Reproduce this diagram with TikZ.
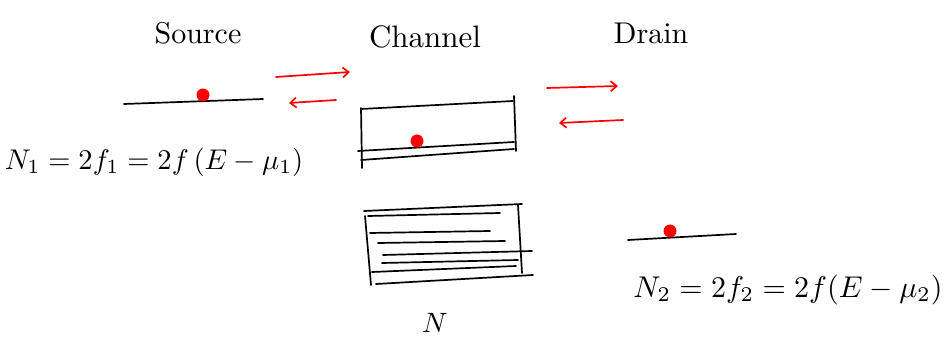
\documentclass[tikz,border=0pt]{standalone}
\usepackage{amsmath}
\usepackage{graphicx}
\usetikzlibrary{arrows.meta}
\begin{document}
\begin{tikzpicture}[x=1pt,y=-1pt,
  ink/.style={line width=1.7pt,line cap=round,black},
  redink/.style={line width=1.7pt,line cap=round,red,-{Straight Barb[length=6pt,width=10pt]}},
  dot/.style={circle,fill=red,inner sep=0pt,minimum size=13pt},
  lbl/.style={inner sep=0pt},
  eq/.style={inner sep=0pt}]
\useasboundingbox (0,0) rectangle (949,344);
% titles
\node[lbl] (src) at (198,33) {\scalebox{3.0}{Source}};
\node[lbl] (chn) at (425,37) {\scalebox{3.1}{Channel}};
\node[lbl] (drn) at (651,33) {\scalebox{3.0}{Drain}};
% source level
\coordinate (s1) at (124,104);
\coordinate (s2) at (263,99);
\draw[ink] (s1) -- (s2);
\node[dot] (sdot) at (203,95) {};
\node[eq] (eq1) at (154,162) {\scalebox{2.85}{$N_1 = 2f_1 = 2f\,(E-\mu_1)$}};
% arrows source/channel
\coordinate (a1) at (276,77); \coordinate (a2) at (350,72);
\coordinate (a3) at (336,100); \coordinate (a4) at (289,103);
\draw[redink] (a1) -- (a2);
\draw[redink] (a3) -- (a4);
% channel box
\coordinate (c1) at (361,109); \coordinate (c2) at (513,101);
\coordinate (c3) at (361,108); \coordinate (c4) at (362,168);
\coordinate (c5) at (514,96);  \coordinate (c6) at (516,151);
\coordinate (c7) at (358,151); \coordinate (c8) at (514,142);
\coordinate (c9) at (361,160); \coordinate (c10) at (514,149);
\draw[ink] (c1) -- (c2);
\draw[ink] (c3) -- (c4);
\draw[ink] (c5) -- (c6);
\draw[ink] (c7) -- (c8);
\draw[ink] (c9) -- (c10);
\node[dot] (cdot) at (417,141) {};
% arrows channel/drain
\coordinate (b1) at (547,88); \coordinate (b2) at (618,86);
\coordinate (b3) at (623,120); \coordinate (b4) at (559,123);
\draw[redink] (b1) -- (b2);
\draw[redink] (b3) -- (b4);
% drain level
\coordinate (d1) at (628,240); \coordinate (d2) at (736,234);
\draw[ink] (d1) -- (d2);
\node[dot] (ddot) at (670,231) {};
\node[eq] (eq2) at (788,290) {\scalebox{3.0}{$N_2 = 2f_2 = 2f(E-\mu_2)$}};
% filled channel box
\coordinate (f1) at (364,211); \coordinate (f2) at (522,204);
\coordinate (f3) at (368,216); \coordinate (f4) at (500,213);
\coordinate (f5) at (365,216); \coordinate (f6) at (371,285);
\coordinate (f7) at (518,205); \coordinate (f8) at (522,273);
\draw[ink] (f1) -- (f2);
\draw[ink] (f3) -- (f4);
\draw[ink] (f5) -- (f6);
\draw[ink] (f7) -- (f8);
\coordinate (g1) at (370,233); \coordinate (g2) at (490,231);
\coordinate (g3) at (378,243); \coordinate (g4) at (505,241);
\coordinate (g5) at (383,255); \coordinate (g6) at (532,251);
\coordinate (g7) at (382,263); \coordinate (g8) at (518,260);
\coordinate (g9) at (372,272); \coordinate (g10) at (516,266);
\coordinate (g11) at (376,284); \coordinate (g12) at (533,275);
\draw[ink] (g1) -- (g2);
\draw[ink] (g3) -- (g4);
\draw[ink] (g5) -- (g6);
\draw[ink] (g7) -- (g8);
\draw[ink] (g9) -- (g10);
\draw[ink] (g11) -- (g12);
\node[eq] (nlab) at (435,323) {\scalebox{2.8}{$N$}};
\end{tikzpicture}
\end{document}
